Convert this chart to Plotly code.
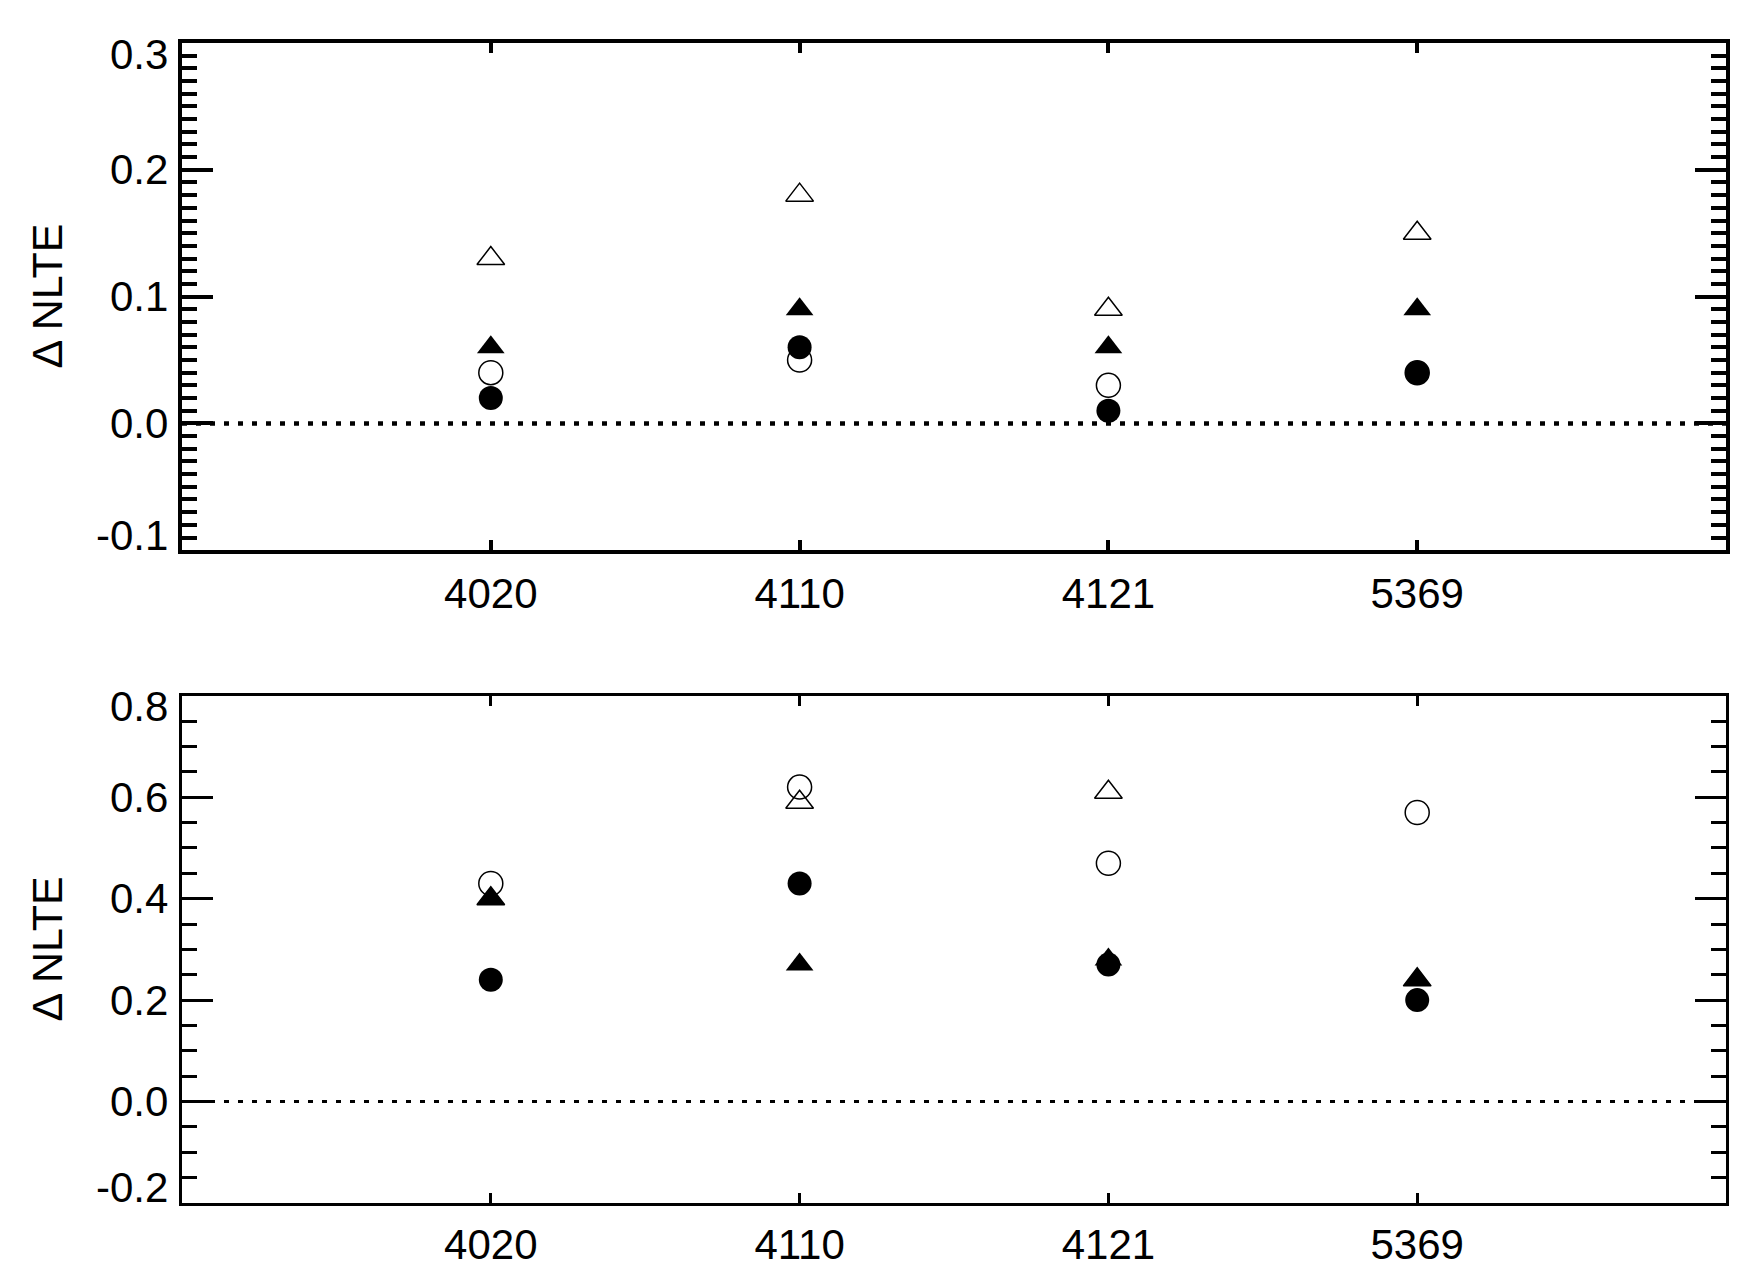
import plotly.graph_objects as go

# ---------------- data ----------------
categories = ["4020", "4110", "4121", "5369"]

# top panel
top_open_circle = [0.04, 0.05, 0.03, 0.04]
top_open_tri = [0.13, 0.18, 0.09, 0.15]
top_filled_circle = [0.02, 0.06, 0.01, 0.04]
top_filled_tri = [0.06, 0.09, 0.06, 0.09]

# bottom panel
bot_open_circle = [0.43, 0.62, 0.47, 0.57]
bot_open_tri = [0.40, 0.59, 0.61, 0.24]
bot_filled_circle = [0.24, 0.43, 0.27, 0.20]
bot_filled_tri = [0.40, 0.27, 0.28, 0.24]

top_yticks = [-0.1, 0.0, 0.1, 0.2, 0.3]
bot_yticks = [-0.2, 0.0, 0.2, 0.4, 0.6, 0.8]
top_range = [-0.1, 0.3]
bot_range = [-0.2, 0.8]
x_range = [0, 5]
ytitle = "Δ NLTE"

# ---------------- figure ----------------
BODY = 8  # default page margin around the plot div
W, H = 1751 - 2 * BODY, 1288 - 2 * BODY
# target plot area in window coords: x 182..1726, y 43..1214
ML = 182 - BODY
MT = 43 - BODY
MR = W - (1726 - BODY)
MB = H - (1214 - BODY)
FONT = "Liberation Sans, Arial, Helvetica, sans-serif"
FS = 42

xpos = list(range(1, len(categories) + 1))

fig = go.Figure()


def add_panel(row_axis, oc, ot, fc, ft, zero_width):
    xa, ya = row_axis
    # zero line
    fig.add_trace(go.Scatter(x=x_range, y=[0, 0], mode="lines",
                             line=dict(color="black", width=zero_width, dash="5px,9px"),
                             xaxis=xa, yaxis=ya, showlegend=False, hoverinfo="skip"))
    common = dict(mode="markers", xaxis=xa, yaxis=ya, showlegend=False)
    fig.add_trace(go.Scatter(x=xpos, y=oc, marker=dict(symbol="circle-open", size=24,
                             color="black", line=dict(width=1.5)), **common))
    fig.add_trace(go.Scatter(x=xpos, y=ot, marker=dict(symbol="triangle-up-open", size=24,
                             color="black", line=dict(width=1.5)), **common))
    fig.add_trace(go.Scatter(x=xpos, y=fc, marker=dict(symbol="circle", size=24,
                             color="black", line=dict(width=0)), **common))
    fig.add_trace(go.Scatter(x=xpos, y=ft, marker=dict(symbol="triangle-up", size=24,
                             color="black", line=dict(width=0)), **common))


add_panel(("x", "y"), top_open_circle, top_open_tri, top_filled_circle, top_filled_tri, 4.5)
add_panel(("x2", "y2"), bot_open_circle, bot_open_tri, bot_filled_circle, bot_filled_tri, 3)

plot_h = H - MT - MB
top_dom = [(1214 - 555) / plot_h, 1.0]
bot_dom = [0.0, (1214 - 702) / plot_h]


def xaxis_style(lw):
    return dict(range=x_range, tickvals=xpos, ticktext=categories,
                ticks="inside", ticklen=10, tickwidth=lw, tickcolor="black",
                showline=True, linewidth=lw, linecolor="black", mirror="allticks",
                showgrid=False, zeroline=False,
                tickfont=dict(family=FONT, size=FS, color="black"),
                ticklabelstandoff=3)


def yaxis_style(lw, minor_dtick):
    return dict(ticks="inside", ticklen=31, tickwidth=lw, tickcolor="black",
                showline=True, linewidth=lw, linecolor="black", mirror="allticks",
                showgrid=False, zeroline=False, showticklabels=False,
                minor=dict(dtick=minor_dtick, ticks="inside", ticklen=15,
                           tickwidth=lw, tickcolor="black"))


fig.update_layout(
    width=W, height=H,
    margin=dict(l=ML, r=MR, t=MT, b=MB),
    paper_bgcolor="white", plot_bgcolor="white",
    font=dict(family=FONT, size=FS, color="black"),
    xaxis=dict(domain=[0, 1], anchor="y", **xaxis_style(4)),
    xaxis2=dict(domain=[0, 1], anchor="y2", **xaxis_style(3)),
    yaxis=dict(domain=top_dom, range=top_range, tickvals=top_yticks, anchor="x",
               **yaxis_style(4, 0.01)),
    yaxis2=dict(domain=bot_dom, range=bot_range, tickvals=bot_yticks, anchor="x2",
                **yaxis_style(3, 0.05)),
)


def tick_labels(yref, ticks, rng, fmt="{:.1f}"):
    for v in ticks:
        shift = 0
        if v == rng[1]:
            shift = -11
        elif v == rng[0]:
            shift = 15
        fig.add_annotation(x=0, xref="x domain" if yref == "y" else "x2 domain",
                           y=v, yref=yref, text=fmt.format(v), showarrow=False,
                           xanchor="right", yanchor="middle", xshift=-12, yshift=shift,
                           font=dict(family=FONT, size=FS, color="black"))


tick_labels("y", top_yticks, top_range)
tick_labels("y2", bot_yticks, bot_range)

for yref in ["y domain", "y2 domain"]:
    fig.add_annotation(x=-(182 - 47) / (1726 - 182), xref="x domain" if yref == "y domain" else "x2 domain",
                       y=0.5, yref=yref, text=ytitle, textangle=-90, showarrow=False,
                       xanchor="center", yanchor="middle",
                       font=dict(family=FONT, size=43, color="black"))

fig.write_html("out.html")
